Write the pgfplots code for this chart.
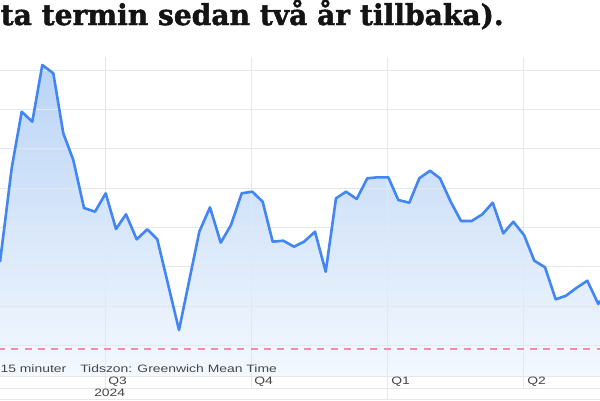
\documentclass[border=0pt]{standalone}
\usepackage{pgfplots}
\pgfplotsset{compat=1.18}
\usepackage{fontspec}
\usepackage{graphicx}
\setmainfont{Liberation Sans}
\newfontfamily\titlefont{DejaVu Serif Bold}[FakeBold=1.6]
\newfontfamily\labfont{Liberation Sans}
\definecolor{linec}{RGB}{66,133,244}
\definecolor{filltop}{RGB}{186,212,246}
\definecolor{fillbot}{RGB}{243,248,254}
\definecolor{gridc}{RGB}{226,232,236}
\definecolor{dashc}{RGB}{242,140,175}
\definecolor{labc}{RGB}{70,70,70}
\pgfplotstableread{
x y
0 138
11.7 232
21.7 288.3
32.3 278.3
42.3 335
53.3 326.7
63.3 266.7
73.3 240
84 192
95 188.3
105.7 206.7
116 171
126 185.7
136.7 160.7
147.3 170.7
157.3 160.7
179 70
199.3 168.3
210 192.7
220.7 157.3
231 175
241.7 206.7
252.3 208.3
262.7 198.3
272.7 158.3
283.3 159.3
294 153.3
304 158.3
315 168.3
325.7 128.3
336 201.7
346 208.3
356.7 201
367.3 221.7
377.7 222.7
388.3 222.7
398.3 200
409.3 197.3
419.3 221.7
430 229.3
440 221.7
450.7 198.3
461 179
471.7 179
482.3 185.7
492.7 197.3
503.3 166.7
513.3 178.3
524 165
534.3 139.3
545 132.7
555.7 100.7
566 104.3
576.7 112.3
587.3 119.3
598.3 96
600 99.3
}\pricedata
\pgfplotsset{base/.style={at={(0pt,24pt)}, anchor=south west, scale only axis,
  width=600pt, height=319pt, xmin=0, xmax=600, ymin=24, ymax=343,
  axis line style={draw=none}, xtick=\empty, ytick=\empty}}
\begin{document}
\begin{tikzpicture}[x=1pt,y=1pt]
\path[use as bounding box, fill=white] (0,0) rectangle (600,400);
\clip (0,0) rectangle (600,400);
% title
\node[anchor=base west, inner sep=0pt, text=black!92] at (0.5,375)
  {\resizebox{503pt}{25.5pt}{\titlefont ta termin sedan två år tillbaka).}};
% fill
\begin{axis}[base]
\addplot[draw=none, top color=filltop, bottom color=fillbot] table[x=x,y=y]{\pricedata} \closedcycle;
\end{axis}
% grid lines
\foreach \yy in {329.7,290.4,251.1,211.8,172.5,133.2,93.9,54.6}
  \draw[gridc, line width=0.9pt] (0,\yy) -- (600,\yy);
\foreach \xx in {105,251.5,523.5}
  \draw[gridc, line width=0.9pt] (\xx,343) -- (\xx,12);
\draw[gridc, line width=0.9pt] (387.5,343) -- (387.5,0);
\foreach \yy in {24,12,1}
  \draw[gridc, line width=0.9pt] (0,\yy) -- (600,\yy);
% dashed line
\draw[dashc, line width=1.4pt, dash pattern=on 7pt off 6.3pt] (-2,51) -- (600,51);
% line
\begin{axis}[base]
\addplot[linec, line width=2.6pt, line join=round, mark=none] table[x=x,y=y]{\pricedata};
\end{axis}
% labels
\tikzset{lab/.style={anchor=base west, inner sep=0pt, xscale=1.3, text=labc,
  font=\labfont\fontsize{10.7}{12}\selectfont}}
\node[lab] at (0.3,28) {15 minuter};
\node[lab] at (80,28) {Tidszon: Greenwich Mean Time};
\node[lab] at (108,15.5) {Q3};
\node[lab] at (254,15.5) {Q4};
\node[lab] at (391,15.5) {Q1};
\node[lab] at (527,15.5) {Q2};
\node[lab] at (94,4) {2024};
\end{tikzpicture}
\end{document}
